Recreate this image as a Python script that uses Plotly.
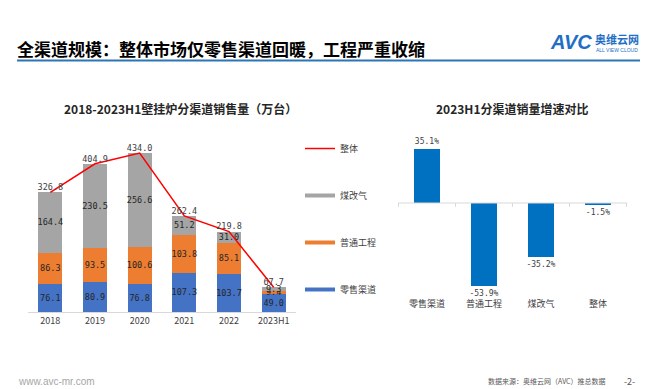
import plotly.graph_objects as go

# ---- data ----
years = ["2018", "2019", "2020", "2021", "2022", "2023H1"]
retail = [76.1, 80.9, 76.8, 107.3, 103.7, 49.0]      # 零售渠道
project = [86.3, 93.5, 100.6, 103.8, 85.1, 9.4]     # 普通工程
coal = [164.4, 230.5, 256.6, 51.2, 31.0, 9.3]       # 煤改气
total = [326.8, 404.9, 434.0, 262.4, 219.8, 67.7]   # 整体

growth_cats = ["零售渠道", "普通工程", "煤改气", "整体"]
growth_vals = [35.1, -53.9, -35.2, -1.5]

W, H = 648, 389
def px(x):
    return x / W
def py(y):
    return 1 - y / H

CJK = "Noto Sans CJK SC"
NUM = "DejaVu Sans Mono"

BLUE = "#4472C4"
ORANGE = "#ED7D31"
GRAY = "#A5A5A5"
RED = "#FF0000"
BAR2 = "#0070C0"

fig = go.Figure()

# stacked bars (left)
for name, vals, col in [("零售渠道", retail, BLUE), ("普通工程", project, ORANGE), ("煤改气", coal, GRAY)]:
    fig.add_trace(go.Bar(
        x=years, y=vals, name=name, marker=dict(color=col, line=dict(width=0)),
        width=0.54, text=[f"{v:.1f}" for v in vals], textposition="inside",
        insidetextanchor="middle", constraintext="none", textangle=0,
        textfont=dict(family=NUM, size=8.5, color="#262626"),
        showlegend=False, xaxis="x", yaxis="y", hoverinfo="skip",
    ))

# total line
fig.add_trace(go.Scatter(
    x=years, y=total, mode="lines+text", name="整体",
    line=dict(color=RED, width=1.5),
    text=[f"{v:.1f}" for v in total], textposition="top center",
    textfont=dict(family=NUM, size=8.5, color="#404040"),
    showlegend=False, xaxis="x", yaxis="y", cliponaxis=False,
))

# legend entries (line-style swatches)
for name, col, w in [("整体", RED, 1.5), ("煤改气", GRAY, 4), ("普通工程", ORANGE, 4), ("零售渠道", BLUE, 4)]:
    fig.add_trace(go.Scatter(
        x=[None], y=[None], mode="lines", name=name, legendgroup=name,
        line=dict(color=col, width=w), xaxis="x", yaxis="y",
    ))

# growth bars (right)
fig.add_trace(go.Bar(
    x=growth_cats, y=growth_vals, marker=dict(color=BAR2, line=dict(width=0)),
    width=0.46, text=[f"{v:.1f}%" for v in growth_vals], textposition="outside",
    constraintext="none", textangle=0, cliponaxis=False,
    textfont=dict(family=NUM, size=8, color="#404040"),
    showlegend=False, xaxis="x2", yaxis="y2",
))

# small tick marks on the zero line between categories
for xv in [-0.5, 0.5, 1.5, 2.5, 3.5]:
    fig.add_shape(type="line", xref="x2", yref="y2", x0=xv, x1=xv, y0=0, y1=-2.5,
                  line=dict(color="#D9D9D9", width=1))

fig.update_layout(
    width=W, height=H, margin=dict(l=0, r=0, t=0, b=0),
    paper_bgcolor="white", plot_bgcolor="rgba(0,0,0,0)",
    barmode="stack",
    font=dict(family=CJK, size=10, color="#404040"),
    xaxis=dict(domain=[px(20), px(288)], type="category", showgrid=False,
               showline=True, linecolor="#D9D9D9", linewidth=1, ticks="",
               tickfont=dict(family=CJK, size=9, color="#404040"), anchor="y"),
    yaxis=dict(domain=[py(304), py(128.3)], range=[0, 480], visible=False),
    xaxis2=dict(domain=[px(390), px(619)], type="category", showgrid=False,
                showline=False, ticks="", anchor="y2", ticklabelstandoff=4,
                tickfont=dict(family=CJK, size=9, color="#404040")),
    yaxis2=dict(domain=[py(284.5), py(133.4)], range=[-58.1, 40], visible=False,
                zeroline=False),
    legend=dict(x=px(292), y=py(126), xanchor="left", yanchor="top",
                tracegroupgap=28, font=dict(family=CJK, size=9, color="#404040"),
                itemwidth=30, bgcolor="rgba(0,0,0,0)"),
    showlegend=True,
)

# zero line for right chart
fig.add_shape(type="line", xref="x2 domain", yref="y2", x0=0, x1=1, y0=0, y1=0,
              line=dict(color="#D9D9D9", width=1))

# header
fig.add_annotation(text="<b>全渠道规模：整体市场仅零售渠道回暖，工程严重收缩</b>", x=px(7), y=py(40),
                   xref="paper", yref="paper", xanchor="left", yanchor="middle", showarrow=False,
                   font=dict(family=CJK, size=17, color="#000000"))
fig.add_shape(type="line", xref="paper", yref="paper", x0=px(9), x1=px(639), y0=py(52.5), y1=py(52.5),
              line=dict(color="#2E75B6", width=2))
fig.add_annotation(text="<b><i>AVC</i></b>", x=px(540), y=py(34), xref="paper", yref="paper",
                   xanchor="left", yanchor="middle", showarrow=False,
                   font=dict(family="Liberation Sans", size=20, color="#1F6FC5"))
fig.add_annotation(text="<b>奥维云网</b>", x=px(585), y=py(31), xref="paper", yref="paper",
                   xanchor="left", yanchor="middle", showarrow=False,
                   font=dict(family=CJK, size=11, color="#1F6FC5"))
fig.add_annotation(text="ALL VIEW CLOUD", x=px(609), y=py(42), xref="paper", yref="paper",
                   xanchor="center", yanchor="middle", showarrow=False,
                   font=dict(family="Liberation Sans", size=5, color="#1F6FC5"))

# chart titles
fig.add_annotation(text="<b>2018-2023H1壁挂炉分渠道销售量（万台）</b>", x=px(172), y=py(100),
                   xref="paper", yref="paper", xanchor="center", yanchor="middle", showarrow=False,
                   font=dict(family=CJK, size=12, color="#262626"))
fig.add_annotation(text="<b>2023H1分渠道销量增速对比</b>", x=px(504), y=py(100),
                   xref="paper", yref="paper", xanchor="center", yanchor="middle", showarrow=False,
                   font=dict(family=CJK, size=12, color="#262626"))

# footer
fig.add_annotation(text="www.avc-mr.com", x=px(8), y=py(373), xref="paper", yref="paper",
                   xanchor="left", yanchor="middle", showarrow=False,
                   font=dict(family="Liberation Sans", size=10, color="#A6A6A6"))
fig.add_annotation(text="数据来源：奥维云网（AVC）推总数据", x=px(600), y=py(373), xref="paper", yref="paper",
                   xanchor="right", yanchor="middle", showarrow=False,
                   font=dict(family=CJK, size=7, color="#595959"))
fig.add_annotation(text="-2-", x=px(621), y=py(373), xref="paper", yref="paper",
                   xanchor="center", yanchor="middle", showarrow=False,
                   font=dict(family=CJK, size=9, color="#595959"))

fig.write_html("out.html")
